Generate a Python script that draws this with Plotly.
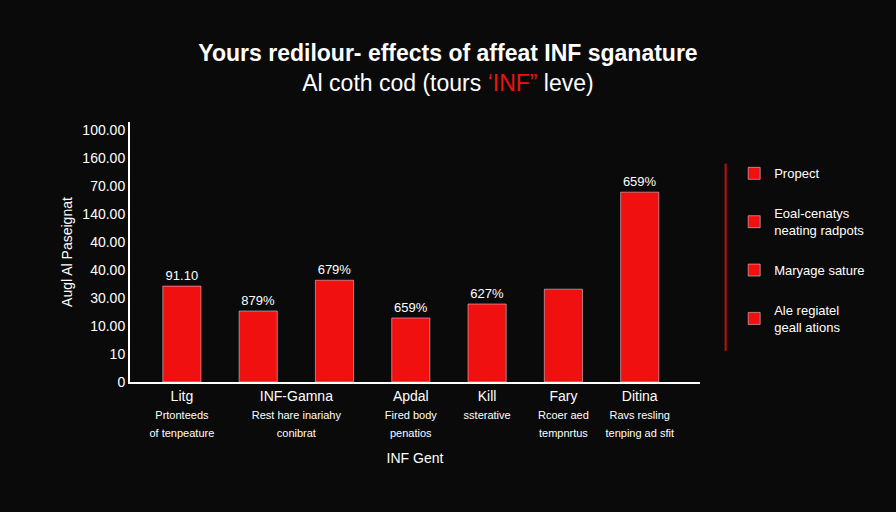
import plotly.graph_objects as go

values = [3.43, 2.54, 3.64, 2.29, 2.79, 3.32, 6.79]
bar_labels = ["91.10", "879%", "679%", "659%", "627%", "", "659%"]
tick_positions = [0, 1.5, 3, 4, 5, 6]
tick_names = ["Litg", "INF-Gamna", "Apdal", "Kill", "Fary", "Ditina"]
descriptions = ["Prtonteeds<br>of tenpeature", "Rest hare inariahy<br>conibrat", "Fired body<br>penatios",
                "ssterative", "Rcoer aed<br>tempnrtus", "Ravs resling<br>tenping ad sfit"]
y_tickvals = [0, 1, 2, 3, 4, 5, 6, 7, 8, 9]
y_ticktext = ["0", "10", "10.00", "30.00", "40.00", "40.00", "140.00", "70.00", "160.00", "100.00"]
legend_names = ["Propect", "Eoal-cenatys<br>neating radpots", "Maryage sature", "Ale regiatel<br>geall ations"]

xt = [f"{n}<br><span style='font-size:11px'>{d}</span>" for n, d in zip(tick_names, descriptions)]

fig = go.Figure()
fig.add_trace(go.Bar(x=list(range(7)), y=values, marker_color="#f01010", width=0.5,
                     text=bar_labels, textposition="outside",
                     textfont=dict(color="white", size=13), showlegend=False, cliponaxis=False))
for i, n in enumerate(legend_names):
    fig.add_trace(go.Bar(x=[None], y=[None], name=n, marker_color="#f01010", legendgroup=f"g{i}"))

fig.update_layout(
    width=896, height=512,
    paper_bgcolor="#0a0a0a", plot_bgcolor="#0a0a0a",
    font=dict(family="Liberation Sans, Arial", color="white", size=13),
    margin=dict(l=130, r=196, t=122, b=130),
    title=dict(text="<b>Yours redilour- effects of affeat INF sganature</b><br>"
                    "Al coth cod (tours <span style='color:#f01010'>‘INF”</span> leve)",
               x=0.5, xanchor="center", y=0.88, font=dict(size=23, color="white")),
    xaxis=dict(tickvals=tick_positions, ticktext=xt, range=[-0.68, 6.79],
               showline=True, linecolor="white", linewidth=2, showgrid=False,
               title=dict(text="INF Gent", font=dict(size=14)), tickfont=dict(size=14)),
    yaxis=dict(tickvals=y_tickvals, ticktext=y_ticktext, range=[0, 9.3],
               showline=True, linecolor="white", linewidth=2, showgrid=False, zeroline=False,
               ticks="", tickfont=dict(size=14),
               title=dict(text="Augl Al Paseignat", font=dict(size=14), standoff=6)),
    legend=dict(x=1.06, y=0.86, xanchor="left", yanchor="top", font=dict(size=13),
                tracegroupgap=20, bgcolor="rgba(0,0,0,0)"),
    shapes=[dict(type="line", xref="paper", yref="paper", x0=1.045, x1=1.045, y0=0.12, y1=0.84,
                 line=dict(color="#c01010", width=2))],
)
fig.write_html("out.html", config={"displayModeBar": False})
with open("out.html", encoding="utf-8") as f:
    html = f.read()
html = html.replace("<body>", "<body style=\"margin:0;background:#0a0a0a\">", 1)
with open("out.html", "w", encoding="utf-8") as f:
    f.write(html)
